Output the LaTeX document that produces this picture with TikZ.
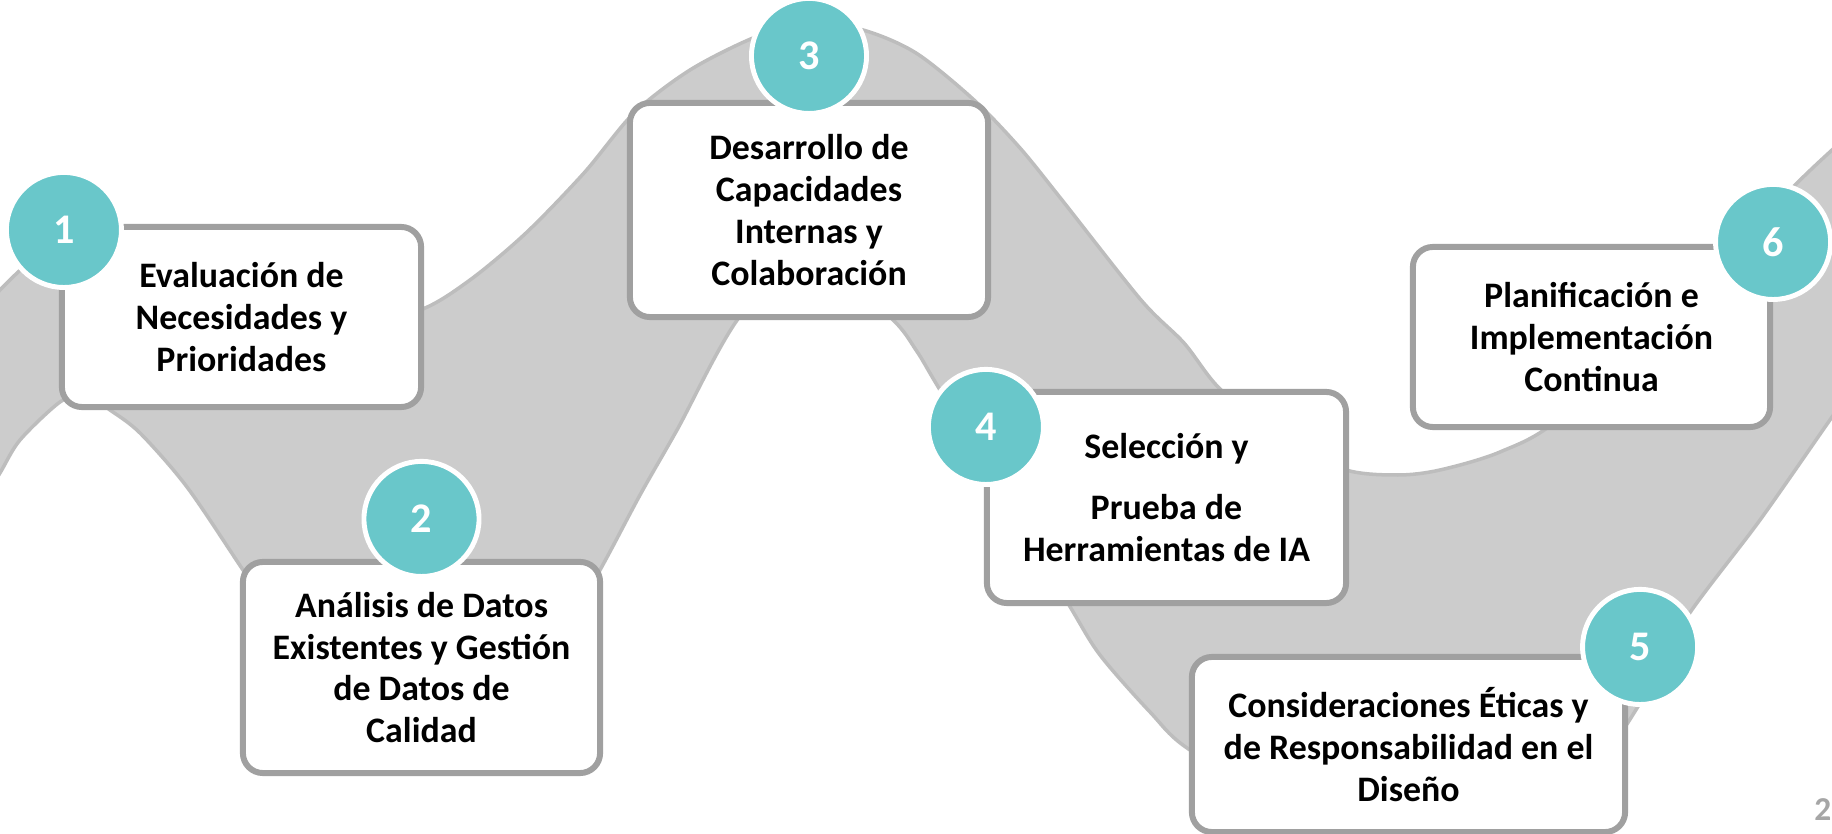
\documentclass[tikz,border=0pt]{standalone}
\usepackage{fontspec}
\setmainfont{Carlito}
\usetikzlibrary{positioning}
\definecolor{bandgray}{HTML}{CCCCCC}
\definecolor{bandrim}{HTML}{BDBDBD}
\definecolor{boxgray}{HTML}{A0A0A0}
\definecolor{stepteal}{HTML}{69C7CA}
\definecolor{pagegray}{HTML}{A6A6A6}

\begin{document}
\begin{tikzpicture}[x=0.01cm, y=-0.01cm,
    stepbox/.style={draw=boxgray, fill=white, line width=1.7pt, rounded corners=0.2cm, align=center, inner sep=0pt, font=\fontsize{10.2}{11.9}\selectfont\bfseries},
    stepnum/.style={circle, fill=stepteal, draw=white, line width=1.4pt, minimum size=1.15cm, inner sep=0pt, text=white, font=\fontsize{12}{14}\selectfont\bfseries}]

    \useasboundingbox (0,0) rectangle (1832,834);

    % Wave band behind the steps
    \begin{scope}
    \clip (0,0) rectangle (1832,834);
    \filldraw[fill=bandgray, draw=bandrim, line width=1pt] plot[smooth] coordinates {(-20,312) (0,290) (30,262) (70,240) (150,248) (260,298) (350,322) (420,310) (470,280) (526,233) (584,173) (634,113) (690,70) (753,38) (806,22) (863,30) (916,53) (974,100) (1020,148) (1062,200) (1141,300) (1184,343) (1219,388) (1280,440) (1346,470) (1398,475) (1440,470) (1500,452) (1560,418) (1680,300) (1793,187) (1832,150) (1860,125)} -- (1900,900) -- (-50,900) -- cycle;
    \filldraw[fill=white, draw=bandrim, line width=1pt] plot[smooth] coordinates {(-20,505) (0,473) (20,440) (60,402) (85,394) (110,410) (140,433) (187,487) (243,570) (300,655) (360,712) (421,732) (480,715) (545,665) (600,570) (640,495) (677,430) (741,315) (816,258) (891,318) (916,350) (937,385) (1000,490) (1069,605) (1100,655) (1150,712) (1190,750) (1300,810) (1420,828) (1540,800) (1600,760) (1645,695) (1687,617) (1760,520) (1832,417) (1860,378)} -- (1900,900) -- (-50,900) -- cycle;
    \end{scope}

    % Step 1
    \node (b1) [stepbox, minimum width=3.59cm, minimum height=1.80cm] at (241.5,317) {Evaluación de\\Necesidades y\\Prioridades};
    \node (n1) [stepnum] at ([shift={(5,6)}]b1.north west) {1};

    % Step 2
    \node (b2) [stepbox, minimum width=3.57cm, minimum height=2.11cm] at (421.5,667.5) {Análisis de Datos\\Existentes y Gestión\\de Datos de\\Calidad};
    \node (n2) [stepnum] at ([shift={(0,-40)}]b2.north) {2};

    % Step 3
    \node (b3) [stepbox, minimum width=3.58cm, minimum height=2.14cm] at (809,210) {Desarrollo de\\Capacidades\\Internas y\\Colaboración};
    \node (n3) [stepnum] at ([shift={(0,-44)}]b3.north) {3};

    % Step 4
    \node (b4) [stepbox, minimum width=3.59cm, minimum height=2.11cm] at (1166.5,497.5) {Selección y\\[0.2cm]Prueba de\\Herramientas de IA};
    \node (n4) [stepnum] at ([shift={(2,38)}]b4.north west) {4};

    % Step 5
    \node (b5) [stepbox, minimum width=4.33cm, minimum height=1.75cm] at (1408.5,744.5) {Consideraciones Éticas y\\de Responsabilidad en el\\Diseño};
    \node (n5) [stepnum] at ([shift={(12,-7)}]b5.north east) {5};

    % Step 6
    \node (b6) [stepbox, minimum width=3.57cm, minimum height=1.80cm] at (1591.5,337) {Planificación e\\Implementación\\Continua};
    \node (n6) [stepnum] at ([shift={(0,-2)}]b6.north east) {6};

    % Page number
    \node (page) [text=pagegray, font=\fontsize{9.5}{11}\selectfont\bfseries, anchor=east, inner sep=0pt] at (1832,810) {2};
\end{tikzpicture}
\end{document}
